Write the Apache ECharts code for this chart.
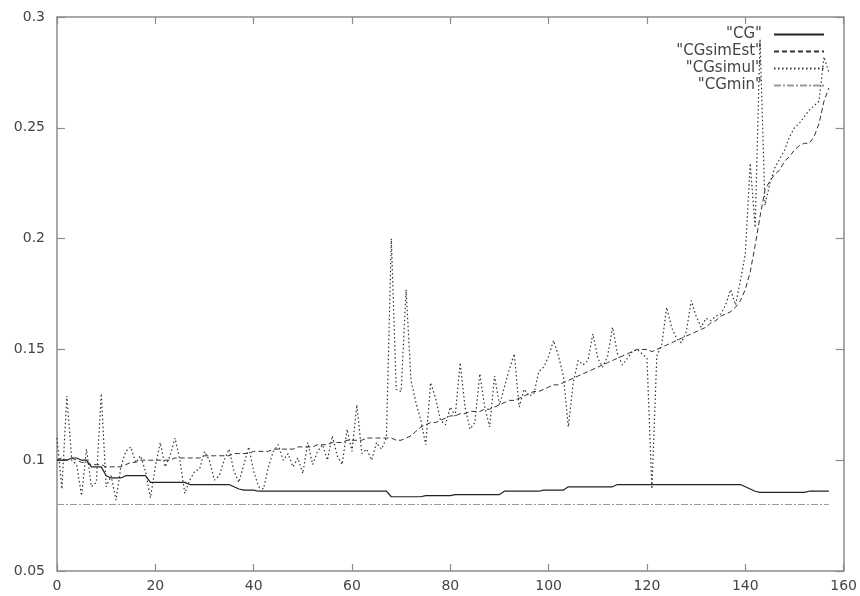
<!DOCTYPE html>
<html>
<head>
<meta charset="utf-8">
<script src="https://cdn.jsdelivr.net/npm/echarts@6/dist/echarts.min.js"></script>
<style>
html,body{margin:0;padding:0;background:#fff;}
#chart{width:860px;height:596px;}
</style>
</head>
<body>
<div id="chart"></div>
<script>
var seriesNames = ['"CG"', '"CGsimEst"', '"CGsimul"', '"CGmin"'];
var xTickLabels = ['0','20','40','60','80','100','120','140','160'];
var yTickLabels = ['0.05','0.1','0.15','0.2','0.25','0.3'];

var cg = [
0.100,0.100,0.100,0.101,0.101,0.100,0.100,0.097,0.097,0.097,
0.093,0.092,0.092,0.092,0.093,0.093,0.093,0.093,0.093,0.090,
0.090,0.090,0.090,0.090,0.090,0.090,0.090,0.089,0.089,0.089,
0.089,0.089,0.089,0.089,0.089,0.089,0.088,0.087,0.0865,0.0865,
0.0865,0.086,0.086,0.086,0.086,0.086,0.086,0.086,0.086,0.086,
0.086,0.086,0.086,0.086,0.086,0.086,0.086,0.086,0.086,0.086,
0.086,0.086,0.086,0.086,0.086,0.086,0.086,0.086,0.0835,0.0835,
0.0835,0.0835,0.0835,0.0835,0.0835,0.084,0.084,0.084,0.084,0.084,
0.084,0.0845,0.0845,0.0845,0.0845,0.0845,0.0845,0.0845,0.0845,0.0845,
0.0845,0.086,0.086,0.086,0.086,0.086,0.086,0.086,0.086,0.0865,
0.0865,0.0865,0.0865,0.0865,0.088,0.088,0.088,0.088,0.088,0.088,
0.088,0.088,0.088,0.088,0.089,0.089,0.089,0.089,0.089,0.089,
0.089,0.089,0.089,0.089,0.089,0.089,0.089,0.089,0.089,0.089,
0.089,0.089,0.089,0.089,0.089,0.089,0.089,0.089,0.089,0.089,
0.088,0.087,0.086,0.0855,0.0855,0.0855,0.0855,0.0855,0.0855,0.0855,
0.0855,0.0855,0.0855,0.086,0.086,0.086,0.086,0.086
];

var cgSimEst = [
0.100,0.101,0.100,0.101,0.100,0.099,0.099,0.098,0.098,0.098,
0.097,0.097,0.097,0.097,0.098,0.099,0.099,0.100,0.100,0.100,
0.100,0.100,0.100,0.100,0.101,0.101,0.101,0.101,0.101,0.101,
0.102,0.102,0.102,0.102,0.102,0.102,0.103,0.103,0.103,0.103,
0.104,0.104,0.104,0.104,0.105,0.105,0.105,0.105,0.105,0.106,
0.106,0.106,0.106,0.107,0.107,0.107,0.108,0.108,0.108,0.109,
0.109,0.109,0.109,0.110,0.110,0.110,0.110,0.110,0.110,0.109,
0.109,0.110,0.111,0.113,0.115,0.116,0.117,0.117,0.118,0.119,
0.120,0.120,0.121,0.121,0.122,0.122,0.122,0.123,0.123,0.124,
0.125,0.126,0.127,0.127,0.128,0.129,0.130,0.131,0.131,0.132,
0.133,0.134,0.134,0.135,0.136,0.137,0.138,0.139,0.140,0.141,
0.142,0.143,0.144,0.145,0.146,0.147,0.148,0.149,0.150,0.150,
0.150,0.149,0.150,0.151,0.152,0.153,0.154,0.155,0.156,0.157,
0.158,0.159,0.160,0.162,0.163,0.165,0.166,0.167,0.169,0.172,
0.177,0.185,0.197,0.210,0.222,0.226,0.229,0.231,0.235,0.237,
0.240,0.242,0.243,0.243,0.246,0.252,0.262,0.268
];

var cgSimul = [
0.110,0.087,0.129,0.100,0.098,0.084,0.105,0.088,0.090,0.130,
0.088,0.093,0.082,0.097,0.104,0.106,0.099,0.102,0.095,0.083,
0.097,0.108,0.097,0.102,0.110,0.100,0.085,0.091,0.095,0.096,
0.104,0.100,0.091,0.093,0.100,0.105,0.095,0.090,0.098,0.106,
0.095,0.088,0.087,0.097,0.104,0.107,0.100,0.103,0.097,0.101,
0.094,0.108,0.098,0.104,0.107,0.100,0.111,0.102,0.098,0.114,
0.104,0.125,0.103,0.105,0.100,0.108,0.105,0.110,0.200,0.132,
0.131,0.177,0.136,0.126,0.118,0.107,0.135,0.128,0.118,0.116,
0.124,0.120,0.144,0.124,0.114,0.117,0.139,0.124,0.115,0.138,
0.125,0.133,0.141,0.148,0.124,0.132,0.129,0.130,0.140,0.142,
0.147,0.154,0.147,0.138,0.115,0.135,0.145,0.143,0.145,0.157,
0.146,0.142,0.147,0.160,0.148,0.143,0.146,0.149,0.150,0.148,
0.146,0.087,0.147,0.152,0.169,0.160,0.155,0.153,0.158,0.172,
0.165,0.160,0.164,0.163,0.165,0.166,0.170,0.177,0.170,0.181,
0.193,0.234,0.205,0.290,0.215,0.225,0.232,0.236,0.240,0.246,
0.250,0.252,0.255,0.258,0.260,0.262,0.282,0.275
];

var cgMin = [];
for (var i = 0; i < cg.length; i++) { cgMin.push(0.080); }

function pairs(arr) {
  var out = [];
  for (var i = 0; i < arr.length; i++) out.push([i, arr[i]]);
  return out;
}

var axisColor = '#8c8c8c';
var labelStyle = { color: '#444', fontFamily: 'DejaVu Sans', fontSize: 14 };

function yLabel(v) {
  var idx = Math.round((v - 0.05) / 0.05);
  return yTickLabels[idx] !== undefined ? yTickLabels[idx] : '';
}
function xLabel(v) {
  var idx = Math.round(v / 20);
  return xTickLabels[idx] !== undefined ? xTickLabels[idx] : '';
}

var chart = echarts.init(document.getElementById('chart'), null, { renderer: 'canvas' });
chart.setOption({
  animation: false,
  backgroundColor: '#fff',
  grid: { left: 57, right: 15, top: 17, bottom: 25, containLabel: false },
  legend: {
    orient: 'vertical',
    right: 30,
    top: 22,
    align: 'right',
    itemWidth: 50,
    itemHeight: 10,
    itemGap: 2,
    itemStyle: { opacity: 0, borderWidth: 0 },
    textStyle: { color: '#444', fontFamily: 'DejaVu Sans', fontSize: 15, padding: [0, 7, 0, 0] },
    data: seriesNames
  },
  xAxis: [{
    type: 'value', min: 0, max: 160, interval: 20,
    axisLine: { show: true, onZero: false, lineStyle: { color: axisColor, width: 1.5 } },
    axisTick: { show: true, inside: true, length: 7, lineStyle: { color: axisColor, width: 1.2 } },
    axisLabel: Object.assign({ margin: 8, formatter: xLabel }, labelStyle),
    splitLine: { show: false }
  }, {
    type: 'value', min: 0, max: 160, interval: 20, position: 'top',
    axisLine: { show: true, onZero: false, lineStyle: { color: axisColor, width: 1.5 } },
    axisTick: { show: true, inside: true, length: 7, lineStyle: { color: axisColor, width: 1.2 } },
    axisLabel: { show: false },
    splitLine: { show: false }
  }],
  yAxis: [{
    type: 'value', min: 0.05, max: 0.3, interval: 0.05,
    axisLine: { show: true, onZero: false, lineStyle: { color: axisColor, width: 1.5 } },
    axisTick: { show: true, inside: true, length: 8, lineStyle: { color: axisColor, width: 1.2 } },
    axisLabel: Object.assign({ margin: 12, formatter: yLabel }, labelStyle),
    splitLine: { show: false }
  }, {
    type: 'value', min: 0.05, max: 0.3, interval: 0.05, position: 'right',
    axisLine: { show: true, onZero: false, lineStyle: { color: axisColor, width: 1.5 } },
    axisTick: { show: true, inside: true, length: 8, lineStyle: { color: axisColor, width: 1.2 } },
    axisLabel: { show: false },
    splitLine: { show: false }
  }],
  series: [
    { name: seriesNames[0], type: 'line', data: pairs(cg), symbol: 'none',
      lineStyle: { color: '#222', width: 1.2, type: 'solid' }, itemStyle: { color: '#222' } },
    { name: seriesNames[1], type: 'line', data: pairs(cgSimEst), symbol: 'none',
      lineStyle: { color: '#333', width: 1, type: [5, 3] }, itemStyle: { color: '#333' } },
    { name: seriesNames[2], type: 'line', data: pairs(cgSimul), symbol: 'none',
      lineStyle: { color: '#333', width: 1.2, type: [1.5, 2.5] }, itemStyle: { color: '#333' } },
    { name: seriesNames[3], type: 'line', data: pairs(cgMin), symbol: 'none',
      lineStyle: { color: '#999', width: 1.2, type: [7, 2, 2, 2] }, itemStyle: { color: '#999' } }
  ]
});
</script>
</body>
</html>
